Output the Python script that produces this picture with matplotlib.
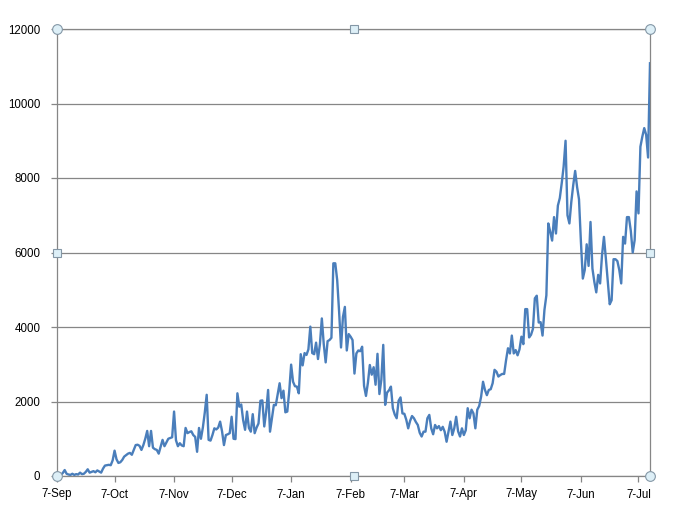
import matplotlib
matplotlib.use("Agg")
import matplotlib.pyplot as plt
import matplotlib.dates as mdates
from matplotlib.ticker import FuncFormatter, MultipleLocator
import pandas as pd

# daily values, one per day from 7-Sep
start_date = "2020-09-07"
daily = [
    20, 60, 30, 80, 160, 60, 40, 30, 60, 30,
    50, 40, 90, 50, 60, 110, 180, 90, 110, 130,
    100, 150, 120, 90, 200, 280, 290, 300, 290, 420,
    680, 450, 350, 370, 430, 520, 560, 600, 620, 570,
    700, 830, 840, 810, 700, 830, 1000, 1210, 800, 1210,
    760, 720, 700, 600, 780, 970, 800, 900, 1000, 1020,
    1040, 1730, 960, 800, 880, 820, 800, 1290, 1150, 1180,
    1200, 1100, 1050, 650, 1290, 1000, 1300, 1700, 2180, 970,
    950, 1100, 1280, 1250, 1300, 1460, 1200, 830, 1100, 1120,
    1150, 1590, 1000, 990, 2220, 1860, 1920, 1500, 1240, 1730,
    1290, 1190, 1660, 1150, 1300, 1410, 2020, 2030, 1330, 1730,
    2310, 1190, 1560, 1910, 1900, 2200, 2490, 2090, 2290, 1710,
    1730, 2270, 2990, 2530, 2410, 2400, 2220, 3270, 2970, 3300,
    3250, 3400, 4010, 3300, 3270, 3580, 3140, 3540, 4230, 3540,
    3050, 3620, 3650, 3710, 5710, 5710, 5260, 4410, 3450, 4270,
    4540, 3370, 3810, 3740, 3650, 2750, 3290, 3370, 3350, 3470,
    2420, 2150, 2500, 2980, 2720, 2920, 2450, 3280, 2200, 2580,
    3520, 1910, 2240, 2300, 2400, 1820, 1650, 1550, 2020, 2110,
    1680, 1670, 1510, 1280, 1480, 1610, 1550, 1450, 1370, 1160,
    1060, 1190, 1190, 1550, 1640, 1280, 1120, 1370, 1280, 1340,
    1230, 1320, 1190, 920, 1190, 1460, 1100, 1280, 1590, 1200,
    1060, 1280, 1100, 1230, 1820, 1550, 1780, 1680, 1280, 1780,
    1880, 2130, 2530, 2310, 2170, 2310, 2330, 2490, 2850, 2800,
    2670, 2710, 2740, 2740, 3110, 3430, 3290, 3770, 3290, 3380,
    3240, 3400, 3740, 3540, 4480, 4480, 3720, 3790, 3950, 4770,
    4840, 4120, 4130, 3770, 4460, 4850, 6780, 6560, 6320, 6950,
    6510, 7260, 7460, 7860, 8310, 9000, 7000, 6780, 7360, 7810,
    8190, 7760, 7430, 6290, 5300, 5530, 6220, 5640, 6820, 5570,
    5210, 4930, 5400, 5170, 5930, 6420, 5840, 5210, 4610, 4720,
    5820, 5820, 5770, 5530, 5170, 6420, 6240, 6950, 6950, 6580,
    6000, 6330, 7640, 7050, 8840, 9110, 9340, 9160, 8550, 11080,
]
dates = pd.date_range(start_date, periods=len(daily), freq="D")

y_max = 12000
y_step = 2000

plt.rcParams['font.family'] = ['Liberation Sans', 'DejaVu Sans']

fig = plt.figure(figsize=(6.81, 5.28), dpi=100)
ax = fig.add_axes([57 / 681, 52 / 528, 593 / 681, 447 / 528])

ax.plot(dates, daily, color="#4A7EBB", lw=1.7, solid_joinstyle="round", zorder=3)

ax.set_xlim(dates[0], dates[-1])
ax.set_ylim(0, y_max)
ax.yaxis.set_major_locator(MultipleLocator(y_step))
ax.xaxis.set_major_locator(mdates.DayLocator(bymonthday=7))
ax.xaxis.set_major_formatter(FuncFormatter(
    lambda v, pos: "{}-{}".format(mdates.num2date(v).day, mdates.num2date(v).strftime("%b"))))

ax.grid(axis="y", color="#868686", lw=0.9, zorder=1)
for s in ax.spines.values():
    s.set_color("#868686")
    s.set_linewidth(0.9)
ax.tick_params(axis="both", colors="#868686", length=4, width=0.9, labelsize=8.3,
               labelcolor="black")
ax.tick_params(axis="y", pad=8)
ax.tick_params(axis="x", pad=5)

# plot-area selection handles
hkw = dict(transform=ax.transAxes, clip_on=False, zorder=5, ls="none",
           markerfacecolor="#DDEFF7", markeredgecolor="#8497A6", markeredgewidth=0.8)
ax.plot([0, 0, 1, 1], [0, 1, 0, 1], marker="o", markersize=7, **hkw)
ax.plot([0.5, 0.5, 0, 1], [0, 1, 0.5, 0.5], marker="s", markersize=5.5, **hkw)

fig.savefig("out.png", dpi=100)
